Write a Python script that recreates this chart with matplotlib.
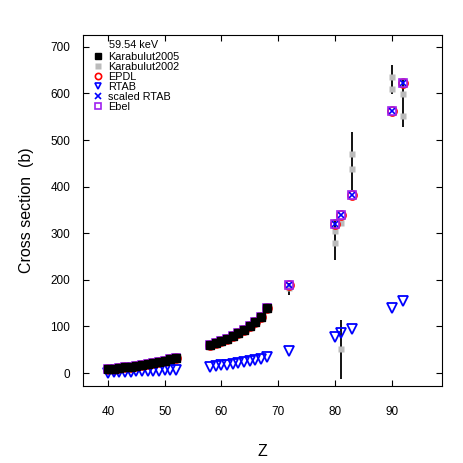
import matplotlib
matplotlib.use('Agg')
import matplotlib.pyplot as plt
import numpy as np

plt.rcParams['font.family'] = ['Liberation Sans', 'DejaVu Sans']

# measured cross sections, 59.54 keV
z_k05 = [40, 41, 42, 43, 44, 45, 46, 47, 48, 49, 50, 51, 52,
         58, 59, 60, 61, 62, 63, 64, 65, 66, 67, 68]
cs_k05 = [8, 9.5, 11, 12.5, 14, 16, 18, 20, 22, 24.5, 27, 30, 33,
          60, 64, 69, 74, 80, 86, 93, 101, 110, 121, 140]

z_k02 = [72, 80, 80, 81, 81, 83, 83, 90, 90, 92, 92]
cs_k02 = [182, 305, 280, 322, 51, 470, 437, 636, 610, 599, 551]
err_lo = [15, 0, 38, 0, 64, 0, 44, 0, 11, 0, 23]
err_hi = [11, 0, 48, 0, 63, 0, 80, 0, 51, 0, 77]

# calculations
z_calc = z_k05 + [72, 80, 81, 83, 90, 92]
cs_calc = cs_k05 + [188, 319, 339, 382, 562, 623]
cs_rtab = [1, 1.5, 2, 2.5, 3, 3.5, 4, 4.5, 5, 5.5, 6, 6.5, 7.5,
           13.5, 15, 16.5, 18, 19.5, 21.5, 23.5, 25.5, 28, 30.5, 33.5,
           47, 78, 85, 94, 139, 154]

fig, ax = plt.subplots(figsize=(4.63, 4.63), dpi=100)
fig.subplots_adjust(left=0.179, right=0.955, bottom=0.166, top=0.924)

ax.errorbar(z_k02, cs_k02, yerr=[err_lo, err_hi], fmt='none', ecolor='black',
            elinewidth=1.3, zorder=2)
ax.plot(z_k02, cs_k02, 's', color='#bbbbbb', ms=4.5, mec='none', zorder=3)
ax.plot(z_calc, cs_calc, 'o', mfc='none', mec='red', mew=1.2, ms=6.5, zorder=4)
ax.plot(z_calc, cs_rtab, 'v', mfc='none', mec='blue', mew=1.3, ms=6.5, zorder=4)
ax.plot(z_calc, cs_calc, 'x', color='blue', mew=1.2, ms=4.5, zorder=5)
ax.plot(z_calc, cs_calc, 's', mfc='none', mec='#a020f0', mew=1.2, ms=5.5, zorder=5)
ax.plot(z_k05, cs_k05, 's', color='black', ms=5.5, zorder=6)

# legend
hk05, = ax.plot([], [], 's', color='black', ms=4)
hk02, = ax.plot([], [], 's', color='#bbbbbb', mec='none', ms=4)
hep, = ax.plot([], [], 'o', mfc='none', mec='red', mew=1.2, ms=4.5)
hrt, = ax.plot([], [], 'v', mfc='none', mec='blue', mew=1.2, ms=5)
hsr, = ax.plot([], [], 'x', color='blue', mew=1.2, ms=4.5)
heb, = ax.plot([], [], 's', mfc='none', mec='#a020f0', mew=1.2, ms=4.5)
ax.legend([hk05, hk02, hep, hrt, hsr, heb],
          ['Karabulut2005', 'Karabulut2002', 'EPDL', 'RTAB', 'scaled RTAB', 'Ebel'],
          loc='upper left', frameon=False, fontsize=7.8,
          handlelength=0.8, handletextpad=0.5, labelspacing=0.0,
          borderpad=0, borderaxespad=0, bbox_to_anchor=(0.03, 0.952))
ax.text(0.073, 0.971, '59.54 keV', transform=ax.transAxes, fontsize=7.8,
        va='center', ha='left')

ax.set_xlim(35.6, 98.9)
ax.set_ylim(-28, 725)
ax.set_xticks([40, 50, 60, 70, 80, 90])
ax.set_yticks([0, 100, 200, 300, 400, 500, 600, 700])
ax.tick_params(direction='in', top=True, right=True, length=4, labelsize=8.5)
ax.tick_params(axis='x', pad=14)
ax.tick_params(axis='y', pad=9)
ax.set_xlabel('Z', fontsize=11.5, labelpad=19)
ax.set_ylabel('Cross section  (b)', fontsize=11.5, labelpad=12)

plt.savefig('out.png')
